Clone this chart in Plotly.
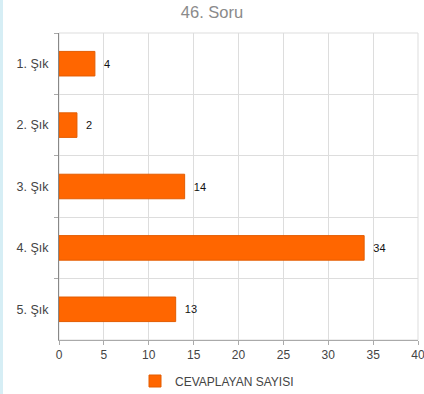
import plotly.graph_objects as go

# Survey responses per option
options = ["1. Şık", "2. Şık", "3. Şık", "4. Şık", "5. Şık"]
counts = [4, 2, 14, 34, 13]
x_ticks = [0, 5, 10, 15, 20, 25, 30, 35, 40]

FONT = "Liberation Sans, Arial, sans-serif"

fig = go.Figure(
    go.Bar(
        x=counts,
        y=options,
        orientation="h",
        name="CEVAPLAYAN SAYISI",
        width=0.4,
        marker=dict(color="#FF6600", line=dict(color="#E35C00", width=1)),
        text=[str(c) for c in counts],
        texttemplate="  %{text}",
        textposition="outside",
        textfont=dict(family=FONT, size=11, color="#111111"),
        cliponaxis=False,
    )
)

fig.update_layout(
    width=424,
    height=394,
    margin=dict(l=59, r=6, t=33, b=54, autoexpand=False),
    paper_bgcolor="white",
    plot_bgcolor="white",
    font=dict(family=FONT, size=12, color="#444444"),
    title=dict(
        text="46. Soru",
        x=0.5,
        xanchor="center",
        y=0.97,
        yanchor="middle",
        font=dict(family=FONT, size=16.5, color="#8a8a8a"),
    ),
    showlegend=True,
    legend=dict(
        orientation="h",
        xref="container",
        yref="container",
        x=135 / 424,
        xanchor="left",
        y=1 - 381 / 394,
        yanchor="middle",
        font=dict(family=FONT, size=12, color="#444444"),
    ),
    xaxis=dict(
        range=[0, 40],
        tickvals=x_ticks,
        showgrid=True,
        gridcolor="#dddddd",
        gridwidth=1,
        zeroline=False,
        showline=True,
        linecolor="#aaaaaa",
        ticks="outside",
        ticklen=4,
        tickcolor="#aaaaaa",
        tickfont=dict(family=FONT, size=12, color="#444444"),
        ticklabeloverflow="allow",
    ),
    yaxis=dict(
        type="category",
        categoryorder="array",
        categoryarray=options,
        autorange="reversed",
        tickson="boundaries",
        showgrid=True,
        gridcolor="#dddddd",
        gridwidth=1,
        showline=True,
        linecolor="#888888",
        linewidth=1,
        ticks="outside",
        ticklen=4,
        tickcolor="#aaaaaa",
        tickfont=dict(family=FONT, size=12.5, color="#444444"),
        ticksuffix="  ",
    ),
    bargap=0.6,
)

# Light frame around the plotting area (top and right grid edges)
fig.add_shape(
    type="rect",
    xref="paper",
    yref="paper",
    x0=0,
    x1=1,
    y0=0,
    y1=1,
    line=dict(color="#dddddd", width=1),
    layer="below",
)

# Thin pale-blue strip along the left edge of the page
fig.add_shape(
    type="rect",
    xref="paper",
    yref="paper",
    x0=-59 / 359,
    x1=-56 / 359,
    y0=-54 / 307,
    y1=1 + 33 / 307,
    fillcolor="#d6eef5",
    line=dict(width=0),
    layer="below",
)

fig.write_html("out.html")
